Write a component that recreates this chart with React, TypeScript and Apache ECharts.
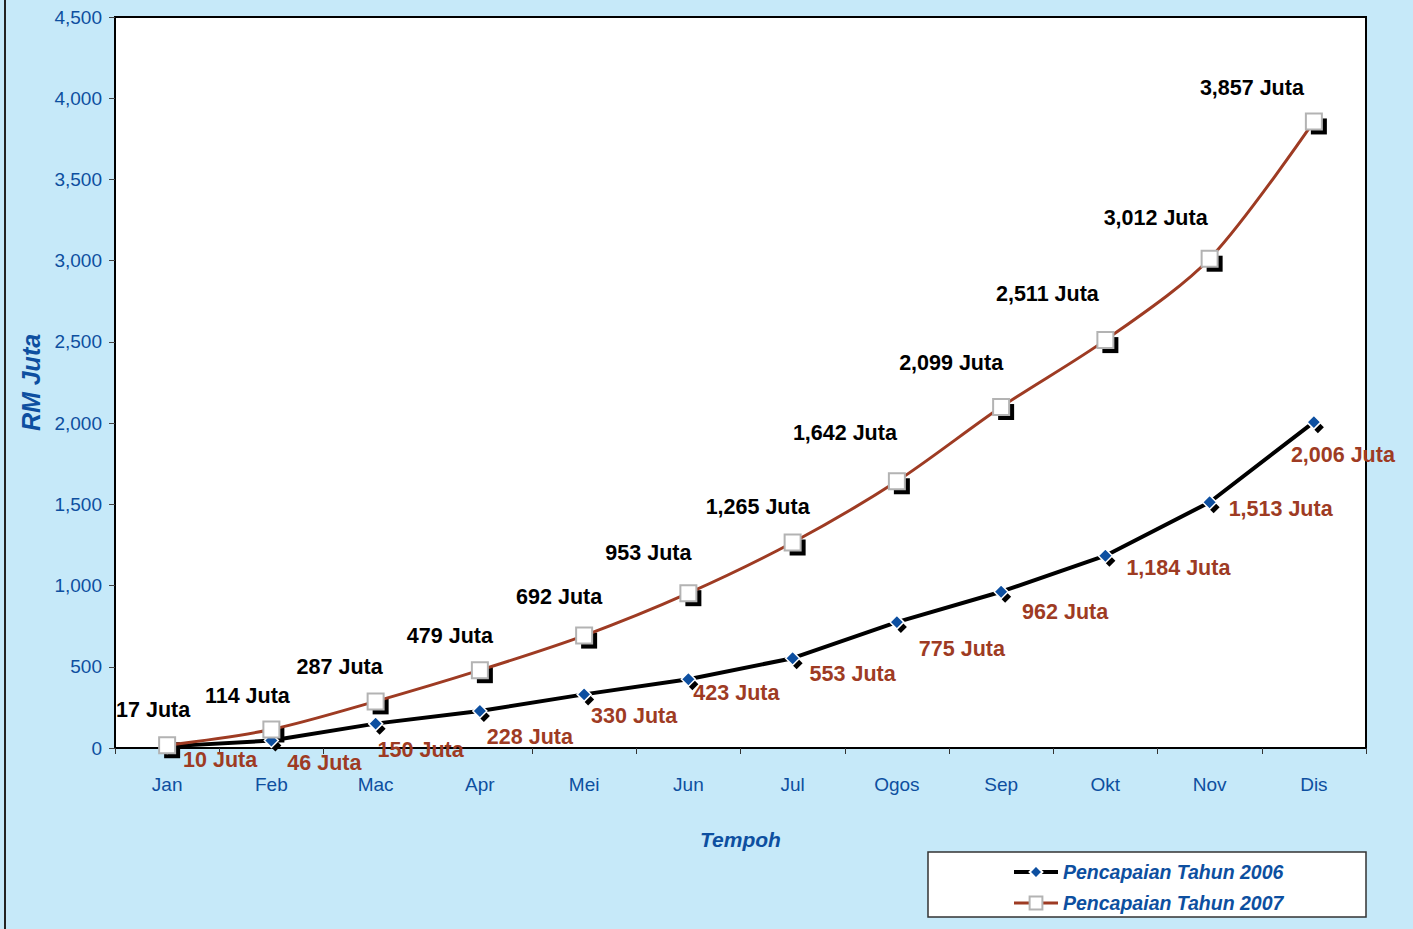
import React, { useEffect, useRef } from "react";
import * as echarts from "echarts";

const months = ["Jan", "Feb", "Mac", "Apr", "Mei", "Jun", "Jul", "Ogos", "Sep", "Okt", "Nov", "Dis"];
const values2006 = [10, 46, 150, 228, 330, 423, 553, 775, 962, 1184, 1513, 2006];
const values2007 = [17, 114, 287, 479, 692, 953, 1265, 1642, 2099, 2511, 3012, 3857];
const name2006 = "Pencapaian Tahun 2006";
const name2007 = "Pencapaian Tahun 2007";

// label nudges (pixels, relative to marker centre)
const labelShift2006 = [[53, 14], [53, 22], [45, 26], [50, 26], [50, 22], [48, 14], [60, 16], [65, 27], [64, 20], [73, 12], [71, 7], [29, 33]];
const labelShift2007 = [[-14, -35], [-24, -33], [-36, -34], [-30, -34], [-25, -39], [-40, -40], [-35, -36], [-52, -48], [-50, -44], [-58, -46], [-54, -41], [-62, -33]];

const BG = "#c6e9f9";
const BLUE = "#0d4fa0";
const BROWN = "#9e3b23";
const FONT = "'Liberation Sans', Arial, sans-serif";

const fmt = (v: number) => v.toLocaleString("en-US") + " Juta";

export default function App() {
  const ref = useRef<HTMLDivElement>(null);
  useEffect(() => {
    if (!ref.current) return;
    const chart = echarts.init(ref.current, undefined, { renderer: "svg" });
    const labelData = (vals: number[], shifts: number[][], color: string) =>
      vals.map((v, i) => ({
        value: v,
        label: {
          show: true,
          position: "inside",
          offset: shifts[i],
          formatter: fmt(v),
          color,
          fontSize: 21.5,
          fontWeight: "bold",
          fontFamily: FONT,
          textBorderWidth: 0,
        },
      }));
    chart.setOption({
      animation: false,
      backgroundColor: BG,
      grid: {
        left: 115,
        right: 47,
        top: 17,
        bottom: 181,
        show: true,
        backgroundColor: "#ffffff",
        borderColor: "#000000",
        borderWidth: 2,
      },
      graphic: [
        { type: "line", shape: { x1: 5, y1: 0, x2: 5, y2: 929 }, style: { stroke: "#222", lineWidth: 2 } },
        {
          type: "rect",
          z: 0,
          shape: { x: 928, y: 852, width: 438, height: 65 },
          style: { fill: "#ffffff", stroke: "#333", lineWidth: 1.5 },
        },
      ],
      legend: {
        data: [
          { name: name2006, lineStyle: { width: 4 } },
          { name: name2007, lineStyle: { width: 3 } },
        ],
        orient: "vertical",
        left: 1012,
        top: 861,
        z: 10,
        itemWidth: 44,
        itemHeight: 16,
        itemGap: 9,
        padding: 0,
        textStyle: {
          color: BLUE,
          fontSize: 19.5,
          fontWeight: "bold",
          fontStyle: "italic",
          fontFamily: FONT,
          lineHeight: 22,
        },
      },
      xAxis: {
        type: "category",
        data: months,
        boundaryGap: true,
        name: "Tempoh",
        nameLocation: "middle",
        nameGap: 81,
        nameTextStyle: { color: BLUE, fontSize: 21, fontWeight: "bold", fontStyle: "italic", fontFamily: FONT },
        axisLine: { lineStyle: { color: "#000", width: 2 } },
        axisTick: { show: true, length: 6, lineStyle: { color: "#333" } },
        axisLabel: { color: BLUE, fontSize: 19, fontFamily: FONT, margin: 27 },
      },
      yAxis: {
        type: "value",
        min: 0,
        max: 4500,
        interval: 500,
        name: "RM Juta",
        nameLocation: "middle",
        nameRotate: 90,
        nameGap: 72,
        nameTextStyle: { color: BLUE, fontSize: 25, fontWeight: "bold", fontStyle: "italic", fontFamily: FONT },
        axisLine: { show: true, lineStyle: { color: "#000", width: 2 } },
        axisTick: { show: true, length: 6, lineStyle: { color: "#444" } },
        splitLine: { show: false },
        axisLabel: {
          color: BLUE,
          fontSize: 19,
          fontFamily: FONT,
          margin: 13,
          formatter: (v: number) => v.toLocaleString("en-US"),
        },
      },
      series: [
        {
          name: "shadow2006",
          type: "line",
          data: values2006,
          z: 2,
          silent: true,
          symbol: "diamond",
          symbolSize: 12,
          symbolOffset: [4, 5],
          showAllSymbol: true,
          lineStyle: { width: 0, opacity: 0 },
          itemStyle: { color: "#000", borderWidth: 0 },
        },
        {
          name: name2006,
          type: "line",
          data: labelData(values2006, labelShift2006, BROWN),
          z: 3,
          symbol: "diamond",
          symbolSize: 14,
          showAllSymbol: true,
          lineStyle: { color: "#000", width: 4 },
          itemStyle: { color: BLUE, borderColor: "#fff", borderWidth: 1.5 },
        },
        {
          name: "shadow2007",
          type: "line",
          data: values2007,
          z: 2,
          silent: true,
          symbol: "rect",
          symbolSize: 16,
          symbolOffset: [5, 5],
          showAllSymbol: true,
          lineStyle: { width: 0, opacity: 0 },
          itemStyle: { color: "#000", borderWidth: 0 },
        },
        {
          name: name2007,
          type: "line",
          data: labelData(values2007, labelShift2007, "#000"),
          z: 3,
          smooth: 0.3,
          symbol: "rect",
          symbolSize: 16,
          showAllSymbol: true,
          lineStyle: { color: BROWN, width: 3 },
          itemStyle: { color: "#fff", borderColor: "#b3b3b3", borderWidth: 2 },
        },
      ],
    });
    return () => chart.dispose();
  }, []);
  return <div ref={ref} style={{ position: "fixed", left: 0, top: 0, width: 1413, height: 929 }} />;
}
